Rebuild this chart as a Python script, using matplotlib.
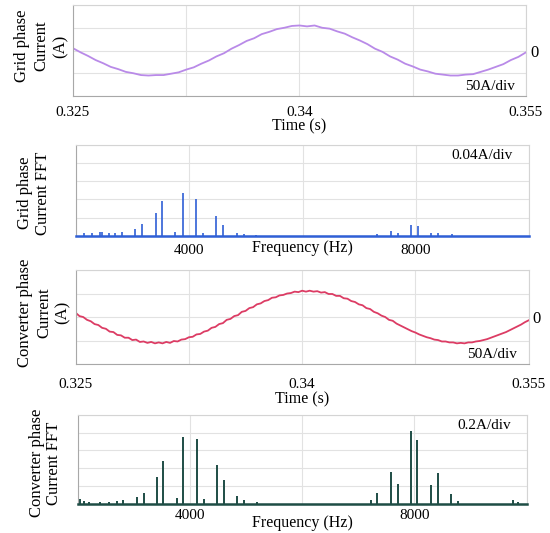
import numpy as np
import matplotlib
matplotlib.use("Agg")
import matplotlib.pyplot as plt

plt.rcParams["font.family"] = ["Liberation Serif", "DejaVu Serif"]

# time-domain window (s)
T_START, T_END = 0.325, 0.355
time_ticks = [0.325, 0.3325, 0.34, 0.3475, 0.355]
time_labels = ["0.325", "", "0.34", "", "0.355"]

# grid phase current (A), sampled every 0.5 ms
grid_current = [
    5, -4, -12, -21, -28, -36, -41, -47, -50, -54,
    -55, -54, -54, -51, -48, -42, -37, -29, -22, -13,
    -6, 4, 12, 21, 27, 36, 41, 47, 50, 54,
    55, 53, 55, 50, 48, 42, 37, 29, 22, 14,
    4, -3, -13, -20, -29, -35, -42, -46, -51, -53,
    -55, -55, -53, -52, -47, -42, -36, -30, -21, -14,
    -4,
]

# converter phase current (A), sampled every 0.25 ms (switching ripple visible)
conv_current = [
    9, 2, 0, -6, -9, -15, -17, -23, -25, -31,
    -32, -38, -39, -44, -44, -49, -48, -53, -52, -55,
    -53, -56, -54, -56, -53, -55, -51, -52, -48, -47,
    -43, -42, -37, -36, -31, -29, -23, -21, -15, -13,
    -6, -4, 2, 4, 11, 13, 19, 21, 27, 29,
    34, 36, 41, 42, 46, 47, 50, 51, 54, 53,
    56, 54, 56, 54, 55, 52, 53, 49, 49, 45,
    45, 40, 39, 34, 32, 27, 25, 19, 17, 11,
    8, 3, 0, -6, -8, -14, -18, -22, -26, -30,
    -33, -37, -40, -43, -45, -48, -49, -52, -52, -54,
    -54, -56, -55, -56, -54, -54, -52, -51, -49, -47,
    -44, -41, -38, -35, -32, -28, -24, -20, -16, -11,
    -7,
]

# frequency axis (Hz)
freq_ticks = [2000, 4000, 6000, 8000, 10000]
freq_labels = ["", "4000", "", "8000", ""]

# grid current spectrum: harmonic frequency (Hz) and magnitude (A)
grid_fft_freq = [2140, 2270, 2420, 2450, 2570, 2680, 2800, 3040, 3160, 3400,
                 3520, 3750, 3880, 4115, 4235, 4475, 4595, 4840, 4960, 5180,
                 7325, 7565, 7690, 7925, 8045, 8280, 8400, 8640]
grid_fft_amp = [0.006, 0.007, 0.009, 0.008, 0.007, 0.007, 0.008, 0.015, 0.025, 0.051,
                0.077, 0.009, 0.095, 0.082, 0.007, 0.044, 0.024, 0.007, 0.003, 0.002,
                0.003, 0.010, 0.007, 0.024, 0.022, 0.006, 0.007, 0.003]

# converter current spectrum
conv_fft_freq = [2030, 2100, 2200, 2400, 2560, 2700, 2810, 3050, 3170, 3405,
                 3525, 3760, 3880, 4120, 4240, 4475, 4600, 4840, 4960, 5185,
                 7220, 7340, 7580, 7700, 7935, 8055, 8290, 8415, 8650, 8770,
                 9760, 9850]
conv_fft_amp = [0.05, 0.03, 0.02, 0.02, 0.02, 0.03, 0.045, 0.07, 0.115, 0.30,
                0.485, 0.06, 0.75, 0.73, 0.055, 0.44, 0.265, 0.085, 0.045, 0.02,
                0.045, 0.12, 0.355, 0.22, 0.82, 0.72, 0.205, 0.345, 0.105, 0.03,
                0.035, 0.015]

GRID_COLOR = "#b98ae8"
GRID_FFT_COLOR = "#2f5fd6"
CONV_COLOR = "#dc3c64"
CONV_FFT_COLOR = "#1e4d45"


def style_axes(ax):
    for side in ["left", "bottom"]:
        ax.spines[side].set_color("#a8a8a8")
    for side in ["top", "right"]:
        ax.spines[side].set_color("#d4d4d4")
    ax.tick_params(length=0, labelsize=11)
    ax.grid(True, color="#e2e2e2", lw=0.8)
    ax.set_axisbelow(True)


def time_panel(rect, current, color, lw, ylabel, label_x, tick_pad):
    ax = fig.add_axes(rect)
    t = np.linspace(T_START, T_END, len(current))
    ax.plot(t, current, color=color, lw=lw)
    ax.set_xlim(T_START, T_END)
    ax.set_ylim(-100, 100)
    ax.set_xticks(time_ticks)
    ax.set_xticklabels(time_labels)
    ax.set_yticks([-100, -50, 0, 50, 100])
    ax.yaxis.tick_right()
    ax.set_yticklabels(["", "", "0", "", ""], fontsize=12)
    style_axes(ax)
    ax.tick_params(axis="x", pad=tick_pad)
    ax.tick_params(axis="y", pad=3, labelsize=12)
    ax.set_xlabel("Time (s)", fontsize=11.5, labelpad=0)
    ax.set_ylabel(ylabel, fontsize=12, linespacing=1.25, va="center")
    ax.yaxis.set_label_coords(label_x, 0.55)
    ax.text(0.975, 0.1, "50A/div", transform=ax.transAxes,
            ha="right", va="center", fontsize=11)
    return ax


def fft_panel(rect, freq, amp, color, lw, ymax, div_text, ylabel, label_x, label_y, tick_pad, xlabel_pad):
    ax = fig.add_axes(rect)
    ax.vlines(freq, 0, amp, color=color, lw=lw)
    ax.axhline(0, color=color, lw=1.8, clip_on=False, zorder=3)
    ax.set_xlim(2000, 10000)
    ax.set_ylim(0, ymax)
    ax.set_xticks(freq_ticks)
    ax.set_xticklabels(freq_labels)
    ax.set_yticks(np.linspace(0, ymax, 6))
    ax.set_yticklabels([])
    style_axes(ax)
    ax.tick_params(axis="x", pad=tick_pad)
    ax.set_xlabel("Frequency (Hz)", fontsize=11.5, labelpad=xlabel_pad)
    ax.set_ylabel(ylabel, fontsize=12, linespacing=1.1, va="center")
    ax.yaxis.set_label_coords(label_x, label_y)
    ax.text(0.965, 0.88, div_text, transform=ax.transAxes,
            ha="right", va="center", fontsize=11)
    return ax


fig = plt.figure(figsize=(5.5, 5.33), dpi=100)

time_panel([0.1327, 0.8199, 0.8236, 0.1707], grid_current, GRID_COLOR, 1.3,
           "Grid phase\nCurrent\n(A)", -0.07, 7)
fft_panel([0.139, 0.5578, 0.822, 0.170], grid_fft_freq, grid_fft_amp,
          GRID_FFT_COLOR, 1.2, 0.2, "0.04A/div",
          "Grid phase\nCurrent FFT", -0.094, 0.47, 6, -12)
time_panel([0.1376, 0.317, 0.8236, 0.1764], conv_current, CONV_COLOR, 1.3,
           "Converter phase\nCurrent\n(A)", -0.07, 10)
fft_panel([0.1418, 0.0553, 0.8155, 0.166], conv_fft_freq, conv_fft_amp,
          CONV_FFT_COLOR, 1.4, 1.0, "0.2A/div",
          "Converter phase\nCurrent FFT", -0.072, 0.46, 4, -5)

fig.savefig("out.png", dpi=100)
